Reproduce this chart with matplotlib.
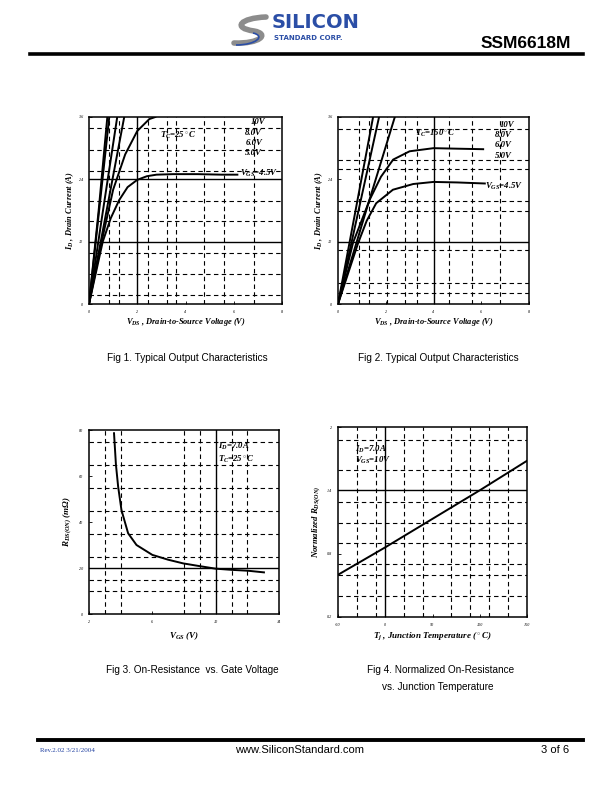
import matplotlib
matplotlib.use("Agg")
import matplotlib.pyplot as plt
from matplotlib.path import Path
from matplotlib.patches import PathPatch

plt.rcParams['mathtext.fontset'] = 'custom'
plt.rcParams['mathtext.rm'] = 'Liberation Serif:style=italic:weight=bold'
plt.rcParams['mathtext.it'] = 'Liberation Serif:style=italic:weight=bold'
plt.rcParams['mathtext.bf'] = 'Liberation Serif:style=italic:weight=bold'

# ---------------- data ----------------
# Fig 1 (Tc = 25 C): VDS (V), ID (A)
f1_vds_10v = [0, 0.40, 0.76]
f1_id_10v = [0, 18, 36]
f1_vds_8v = [0, 0.42, 0.84]
f1_id_8v = [0, 18, 36]
f1_vds_7v = [0, 0.58, 1.17]
f1_id_7v = [0, 18, 36]
f1_vds_6v = [0, 0.73, 1.46]
f1_id_6v = [0, 18, 36]
f1_vds_5v = [0, 0.5, 1.0, 1.5, 2.0, 2.5, 2.75]
f1_id_5v = [0, 11.5, 22, 28.8, 33.3, 35.6, 36]
f1_vds_45v = [0, 0.57, 0.9, 1.25, 1.6, 2.0, 2.4, 2.8, 3.5, 4.5, 5.5, 6.15]
f1_id_45v = [0, 12, 16.5, 20, 22.5, 23.9, 24.6, 24.9, 25.0, 25.0, 24.9, 24.9]

# Fig 2 (Tc = 150 C)
f2_vds_10v = [0, 1.47]
f2_id_10v = [0, 36]
f2_vds_8v = [0, 1.72]
f2_id_8v = [0, 36]
f2_vds_6v = [0, 1.2, 2.38]
f2_id_6v = [0, 18.3, 36]
f2_vds_5v = [0, 0.63, 1.33, 1.8, 2.31, 3.0, 4.0, 5.0, 6.08]
f2_id_5v = [0, 11.8, 20.1, 24.5, 27.8, 29.4, 30.0, 29.9, 29.8]
f2_vds_45v = [0, 0.84, 1.2, 1.6, 2.3, 3.15, 4.0, 5.0, 6.15]
f2_id_45v = [0, 11.7, 16, 19.4, 22, 23.1, 23.5, 23.4, 23.2]

# Fig 3: VGS (V), RDS(on) (mOhm)
f3_vgs = [3.58, 3.7, 3.84, 4.05, 4.47, 5.0, 6.0, 7.0, 7.95, 9.0, 10.0, 11.0, 12.06, 13.05]
f3_rds = [78.6, 65, 55.4, 45.2, 35.1, 30, 25.7, 23.6, 22.0, 20.8, 19.7, 19.2, 18.8, 18.1]

# Fig 4: Tj (C), normalized RDS(on)
f4_tj = [-50, 0, 50, 100, 150]
f4_rn = [0.60, 0.86, 1.13, 1.40, 1.68]

# tick labels
f12_xticks = [0, 2, 4, 6, 8]
f12_yticks = [0, 12, 24, 36]
f3_xticks = [2, 6, 10, 14]
f3_yticks = [0, 20, 40, 60, 80]
f4_xticks = [-50, 0, 50, 100, 150]
f4_yticks = [0.2, 0.8, 1.4, 2.0]
f4_yticklabels = ['0.2', '0.8', '1.4', '2']

# grid lines (dashed / solid)
f1_vdash = [0.83, 1.23, 2.44, 3.22, 3.61, 4.75, 5.58, 6.82]
f1_hdash = [1.8, 5.8, 9.8, 15.9, 19.9, 25.6, 29.7, 33.8]
f1_vsolid = [2]
f1_hsolid = [12, 24]
f2_vdash = [0.88, 1.3, 2.06, 2.8, 3.29, 4.66, 5.6, 6.78]
f2_hdash = [2.06, 4.0, 10.3, 18.0, 19.9, 25.9, 27.8, 33.6]
f2_vsolid = [4]
f2_hsolid = [12]
f3_vdash = [3, 4, 8, 9, 11, 12]
f3_hdash = [10, 15, 25, 35, 45, 55, 65, 75]
f3_vsolid = [10]
f3_hsolid = [20]
f4_vdash = [-30, -10, 20, 40, 70, 90, 110, 130]
f4_hdash = [0.4, 0.6, 0.7, 0.9, 1.09, 1.29, 1.59, 1.88]
f4_vsolid = [0]
f4_hsolid = [1.4]

# ---------------- figure ----------------
W, H = 612, 792
fig = plt.figure(figsize=(W / 100, H / 100), dpi=100)


def fx(x):
    return x / W


def fy(y):
    return 1 - y / H


def make_ax(l, r, t, b):
    return fig.add_axes([fx(l), fy(b), (r - l) / W, (b - t) / H])


serif_bi = dict(family='Liberation Serif', weight='bold', style='italic')
LW = 1.4


def style_ax(ax, xlim, ylim, xt, yt, vd, hd, vs, hs, ytl=None):
    ax.set_xlim(*xlim)
    ax.set_ylim(*ylim)
    for v in vd:
        ax.axvline(v, color='black', lw=0.8, ls=(0, (4, 3)), zorder=1)
    for h in hd:
        ax.axhline(h, color='black', lw=0.8, ls=(0, (4, 3)), zorder=1)
    for v in vs:
        ax.axvline(v, color='black', lw=1.0, zorder=1)
    for h in hs:
        ax.axhline(h, color='black', lw=1.0, zorder=1)
    ax.set_xticks(xt)
    ax.set_yticks(yt)
    ax.set_xticklabels([str(t) for t in xt])
    ax.set_yticklabels(ytl if ytl else [str(t) for t in yt])
    ax.tick_params(direction='in', length=2, width=0.6, labelsize=3, pad=4)
    for lab in ax.get_xticklabels() + ax.get_yticklabels():
        lab.set_family('Liberation Serif')
        lab.set_style('italic')
    for s in ax.spines.values():
        s.set_linewidth(1.1)


# Fig 1
ax1 = make_ax(89, 282, 117, 304)
style_ax(ax1, (0, 8), (0, 36), f12_xticks, f12_yticks, f1_vdash, f1_hdash, f1_vsolid, f1_hsolid)
for xs, ys in [(f1_vds_10v, f1_id_10v), (f1_vds_8v, f1_id_8v), (f1_vds_7v, f1_id_7v),
               (f1_vds_6v, f1_id_6v), (f1_vds_5v, f1_id_5v), (f1_vds_45v, f1_id_45v)]:
    ax1.plot(xs, ys, color='black', lw=LW, zorder=3, clip_on=True)
ax1.text(6.69, 35.0, '10V', fontsize=6.3, va='center', **serif_bi)
ax1.text(6.48, 32.9, '8.0V', fontsize=6.3, va='center', **serif_bi)
ax1.text(6.48, 31.0, '6.0V', fontsize=6.3, va='center', **serif_bi)
ax1.text(6.48, 29.1, '5.0V', fontsize=6.3, va='center', **serif_bi)
ax1.text(2.95, 32.5, r'$T_C$=25$^\circ$C', fontsize=6.3, va='center', **serif_bi)
ax1.text(6.27, 25.1, r'$V_{GS}$=4.5V', fontsize=6.3, va='center', **serif_bi)
ax1.text(-0.10, 0.5, r'$I_D$ , Drain Current (A)', transform=ax1.transAxes, rotation=90,
         ha='center', va='center', fontsize=6, **serif_bi)
ax1.text(0.5, -0.097, r'$V_{DS}$ , Drain-to-Source Voltage (V)', transform=ax1.transAxes,
         ha='center', va='center', fontsize=6, **serif_bi)

# Fig 2
ax2 = make_ax(338, 529, 117, 304)
style_ax(ax2, (0, 8), (0, 36), f12_xticks, f12_yticks, f2_vdash, f2_hdash, f2_vsolid, f2_hsolid)
for xs, ys in [(f2_vds_10v, f2_id_10v), (f2_vds_8v, f2_id_8v), (f2_vds_6v, f2_id_6v),
               (f2_vds_5v, f2_id_5v), (f2_vds_45v, f2_id_45v)]:
    ax2.plot(xs, ys, color='black', lw=LW, zorder=3)
ax2.text(6.78, 34.5, '10V', fontsize=6.3, va='center', **serif_bi)
ax2.text(6.57, 32.6, '8.0V', fontsize=6.3, va='center', **serif_bi)
ax2.text(6.57, 30.7, '6.0V', fontsize=6.3, va='center', **serif_bi)
ax2.text(6.57, 28.4, '5.0V', fontsize=6.3, va='center', **serif_bi)
ax2.text(3.22, 32.9, r'$T_C$=150$^\circ$C', fontsize=6.3, va='center', **serif_bi)
ax2.text(6.15, 22.6, r'$V_{GS}$=4.5V', fontsize=6.3, va='center', **serif_bi)
ax2.text(-0.10, 0.5, r'$I_D$ , Drain Current (A)', transform=ax2.transAxes, rotation=90,
         ha='center', va='center', fontsize=6, **serif_bi)
ax2.text(0.5, -0.097, r'$V_{DS}$ , Drain-to-Source Voltage (V)', transform=ax2.transAxes,
         ha='center', va='center', fontsize=6, **serif_bi)

# Fig 3
ax3 = make_ax(89, 279, 430, 614)
style_ax(ax3, (2, 14), (0, 80), f3_xticks, f3_yticks, f3_vdash, f3_hdash, f3_vsolid, f3_hsolid)
ax3.plot(f3_vgs, f3_rds, color='black', lw=LW, zorder=3)
ax3.text(10.16, 72.8, r'$I_D$=7.0A', fontsize=6.3, va='center', **serif_bi)
ax3.text(10.16, 67.2, r'$T_C$=25$^\circ$C', fontsize=6.3, va='center', **serif_bi)
ax3.text(-0.11, 0.5, r'$R_{DS(ON)}$ (m$\Omega$)', transform=ax3.transAxes, rotation=90,
         ha='center', va='center', fontsize=6.5, **serif_bi)
ax3.text(0.5, -0.12, r'$V_{GS}$ (V)', transform=ax3.transAxes,
         ha='center', va='center', fontsize=6.5, **serif_bi)

# Fig 4
ax4 = make_ax(338, 527, 427, 617)
style_ax(ax4, (-50, 150), (0.2, 2.0), f4_xticks, f4_yticks, f4_vdash, f4_hdash, f4_vsolid, f4_hsolid,
         ytl=f4_yticklabels)
ax4.plot(f4_tj, f4_rn, color='black', lw=LW, zorder=3)
ax4.text(-32, 1.79, r'$I_D$=7.0A', fontsize=6.3, va='center', **serif_bi)
ax4.text(-32, 1.68, r'$V_{GS}$=10V', fontsize=6.3, va='center', **serif_bi)
ax4.text(-0.11, 0.5, r'Normalized $R_{DS(ON)}$', transform=ax4.transAxes, rotation=90,
         ha='center', va='center', fontsize=6.3, **serif_bi)
ax4.text(0.5, -0.10, r'$T_j$ , Junction Temperature ($^\circ$C)', transform=ax4.transAxes,
         ha='center', va='center', fontsize=6.5, **serif_bi)

# captions
cap = dict(family='Liberation Sans', fontsize=7.2, ha='center', va='center')
fig.text(fx(187), fy(358), 'Fig 1. Typical Output Characteristics', **cap)
fig.text(fx(438), fy(358), 'Fig 2. Typical Output Characteristics', **cap)
fig.text(fx(192), fy(670), 'Fig 3. On-Resistance  vs. Gate Voltage', **cap)
fig.text(fx(441), fy(670), 'Fig 4. Normalized On-Resistance', **cap)
fig.text(fx(438), fy(687), 'vs. Junction Temperature', **cap)

# header
fig.add_artist(plt.Line2D([fx(30), fx(583)], [fy(53.5), fy(53.5)], color='black', lw=2.6))
fig.text(fx(571), fy(43), 'SSM6618M', family='Liberation Sans', weight='bold', fontsize=12.5,
         ha='right', va='center')
fig.text(fx(272), fy(23), 'SILICON', family='DejaVu Sans', weight='bold', fontsize=14,
         color='#2b4ea6', ha='left', va='center')
fig.text(fx(274), fy(37.5), 'STANDARD CORP.', family='DejaVu Sans', weight='bold', fontsize=5,
         color='#2b4ea6', ha='left', va='center')
verts = [(fx(266), fy(17)), (fx(240), fy(18)), (fx(232), fy(28)), (fx(254), fy(31)),
         (fx(270), fy(34)), (fx(260), fy(44)), (fx(234), fy(43))]
codes = [Path.MOVETO, Path.CURVE4, Path.CURVE4, Path.CURVE4, Path.CURVE4, Path.CURVE4, Path.CURVE4]
fig.add_artist(PathPatch(Path(verts, codes), facecolor='none', edgecolor='#8c8c8c', lw=4,
                         transform=fig.transFigure, capstyle='round'))
verts2 = [(fx(253), fy(33)), (fx(266), fy(36)), (fx(256), fy(45)), (fx(236), fy(45))]
fig.add_artist(PathPatch(Path(verts2, [Path.MOVETO, Path.CURVE4, Path.CURVE4, Path.CURVE4]),
                         facecolor='none', edgecolor='#2b4ea6', lw=1.2, transform=fig.transFigure))

# footer
fig.add_artist(plt.Line2D([fx(38), fx(583)], [fy(740), fy(740)], color='black', lw=2.8))
fig.text(fx(40), fy(750), 'Rev.2.02 3/21/2004', family='Liberation Serif', fontsize=5,
         color='#1f3fa0', ha='left', va='center')
fig.text(fx(300), fy(750), 'www.SiliconStandard.com', family='Liberation Sans', fontsize=8,
         ha='center', va='center')
fig.text(fx(569), fy(750), '3 of 6', family='Liberation Sans', fontsize=8,
         ha='right', va='center')

fig.savefig('out.png', dpi=100)
